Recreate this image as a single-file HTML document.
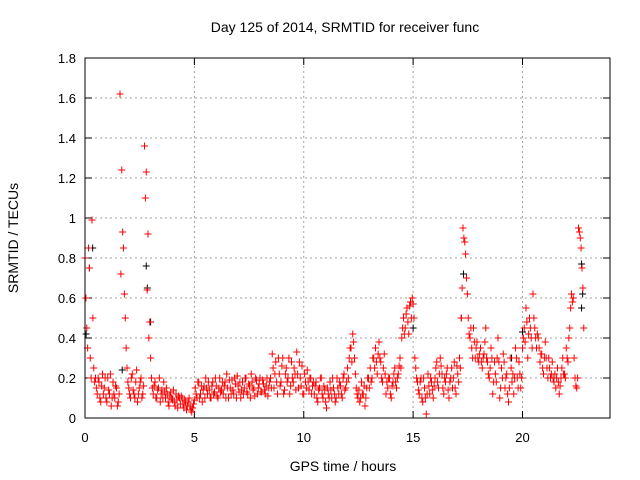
<!DOCTYPE html>
<html><head><meta charset="utf-8"><style>
body{margin:0;background:#fff;}
svg{display:block;font-family:"Liberation Sans",sans-serif;}
</style></head><body>
<svg id="chart" width="640" height="480">
<rect x="0" y="0" width="640" height="480" fill="#fff"/>
<text x="345" y="32" text-anchor="middle" font-size="14">Day 125 of 2014, SRMTID for receiver func</text>
<text transform="translate(18,238) rotate(-90)" text-anchor="middle" font-size="14">SRMTID / TECUs</text>
<text x="343" y="471" text-anchor="middle" font-size="14">GPS time / hours</text>
<g id="grid"></g><g id="axes"></g><g id="marks"></g>
<rect x="85" y="58" width="525" height="360" fill="none" stroke="#000" stroke-width="1"/>
</svg>
<script>
const xTicks=[0,5,10,15,20];
const yTicks=[0,0.2,0.4,0.6,0.8,1,1.2,1.4,1.6,1.8];
const yTickLabels=["0","0.2","0.4","0.6","0.8","1","1.2","1.4","1.6","1.8"];
const redStep=0.08;
const redValues=[0.8,0.45,0.85,0.3,0.99,0.25,
0.2,0.12,0.18,0.08,0.22,0.15,0.1,0.2,0.12,0.06,0.18,0.1,0.15,0.08,
1.62,1.24,0.85,0.5,0.25,
0.15,0.1,0.22,0.12,0.18,0.08,0.15,0.2,0.12,
1.36,1.23,0.92,0.48,0.2,
0.12,0.18,0.1,0.15,0.08,0.14,0.18,0.1,0.12,0.06,0.13,0.09,0.08,0.12,0.05,0.1,0.11,0.07,0.09,0.04,0.08,0.06,0.03,0.07,
0.15,0.1,0.18,0.12,0.08,0.16,0.2,0.12,0.14,0.1,0.18,0.13,0.16,0.1,0.2,0.14,0.12,0.18,0.22,0.1,0.15,0.19,0.12,0.17,0.21,0.13,0.1,0.18,0.15,0.2,0.12,0.16,0.22,0.14,0.11,0.19,0.15,0.2,0.13,0.17,0.12,0.2,0.15,
0.2,0.32,0.15,0.28,0.12,0.22,0.18,0.3,0.14,0.25,0.2,0.12,0.28,0.18,0.22,0.33,0.15,0.2,0.26,0.12,0.18,0.24,0.14,0.2,0.16,
0.12,0.18,0.08,0.15,0.2,0.1,0.14,0.05,0.12,0.18,0.1,0.15,0.08,0.2,0.12,0.16,0.1,0.22,0.15,
0.25,0.3,0.35,0.42,0.3,
0.15,0.1,0.08,0.18,0.12,0.06,0.15,0.2,
0.25,0.2,0.3,0.35,0.22,0.38,0.28,0.18,0.32,0.12,
0.15,0.2,0.1,0.18,0.25,0.15,0.22,0.3,
0.4,0.5,0.45,0.55,0.42,0.58,0.6,0.5,
0.25,0.18,0.12,0.2,0.08,0.15,0.02,0.22,0.12,0.18,0.1,
0.2,0.28,0.15,0.3,0.22,0.12,0.18,0.25,0.1,0.2,0.15,0.28,0.12,0.22,0.3,
0.5,0.95,0.88,0.7,
0.5,0.4,0.35,0.45,0.3,0.38,0.28,0.35,0.25,0.32,0.45,0.28,
0.2,0.35,0.12,0.28,0.18,0.4,0.1,0.25,0.32,0.15,0.22,0.08,0.3,0.18,0.12,0.35,0.2,0.28,0.15,
0.35,0.45,0.55,0.3,0.5,0.4,
0.62,0.45,0.35,0.4,0.28,0.32,0.22,0.38,0.25,0.3,0.2,0.28,0.18,
0.15,0.25,0.12,0.2,0.3,0.22,0.35,0.28,
0.45,0.62,0.6,0.2,
0.15,0.95,0.9,0.75,0.45];
const redValues2=[0.6,0.35,0.75,0.2,0.5,0.18,
0.15,0.2,0.1,0.16,0.12,0.2,0.08,0.14,0.22,0.1,0.12,0.16,0.06,0.12,
0.72,0.93,0.62,0.35,0.18,
0.12,0.2,0.14,0.1,0.24,0.12,0.18,0.1,0.16,
1.1,0.64,0.4,0.3,0.15,
0.16,0.1,0.14,0.2,0.12,0.1,0.13,0.15,0.08,0.11,0.1,0.14,0.06,0.09,0.11,0.07,0.1,0.05,0.08,0.06,0.1,0.04,0.05,0.09,
0.12,0.18,0.1,0.16,0.14,0.1,0.15,0.18,0.1,0.16,0.12,0.2,0.11,0.15,0.13,0.18,0.16,0.1,0.15,0.19,0.12,0.14,0.2,0.1,0.16,0.18,0.14,0.12,0.2,0.13,0.17,0.1,0.18,0.15,0.2,0.12,0.17,0.13,0.19,0.14,0.16,0.11,0.18,
0.15,0.25,0.22,0.18,0.3,0.16,0.26,0.12,0.22,0.18,0.3,0.16,0.2,0.25,0.14,0.22,0.28,0.16,0.12,0.22,0.15,0.18,0.2,0.12,0.18,
0.16,0.1,0.14,0.2,0.12,0.16,0.08,0.15,0.1,0.14,0.2,0.12,0.1,0.15,0.18,0.12,0.2,0.14,0.18,
0.2,0.35,0.28,0.38,0.22,
0.12,0.14,0.1,0.12,0.16,0.1,0.2,0.15,
0.18,0.3,0.25,0.28,0.32,0.3,0.2,0.25,0.22,0.18,
0.2,0.12,0.16,0.22,0.18,0.2,0.26,0.25,
0.45,0.42,0.52,0.48,0.56,0.5,0.57,0.3,
0.2,0.14,0.18,0.1,0.2,0.1,0.12,0.16,0.2,0.14,0.16,
0.25,0.18,0.22,0.26,0.15,0.2,0.22,0.14,0.18,0.25,0.2,0.15,0.26,0.18,0.25,
0.65,0.9,0.82,0.62,
0.42,0.45,0.3,0.38,0.35,0.3,0.32,0.28,0.3,0.38,0.3,0.22,
0.25,0.3,0.18,0.22,0.3,0.28,0.15,0.2,0.28,0.2,0.12,0.15,0.25,0.22,0.2,0.3,0.15,0.22,0.2,
0.4,0.38,0.48,0.42,0.45,0.35,
0.5,0.4,0.42,0.35,0.32,0.25,0.3,0.3,0.2,0.25,0.22,0.2,0.22,
0.2,0.18,0.16,0.25,0.22,0.2,0.3,0.4,
0.55,0.58,0.3,0.16,
0.2,0.93,0.85,0.65];
const blackTimes=[0.05,0.2,0.35,1.7,2.8,2.85,3.0,15.0,17.2,17.3,19.5,20.0,22.7,22.75,22.7];
const blackValues=[0.42,0.75,0.85,0.24,0.76,0.65,0.48,0.45,0.5,0.72,0.3,0.43,0.77,0.62,0.55];

const X0=85,X1=610,Y0=418,Y1=58,XMAX=24,YMAX=1.8;
const xs=t=>X0+t/XMAX*(X1-X0);
const ys=v=>Y0-v/YMAX*(Y0-Y1);
const NS="http://www.w3.org/2000/svg";
const grid=document.getElementById('grid'),axes=document.getElementById('axes'),marks=document.getElementById('marks');
function mk(tag,attrs,parent){const e=document.createElementNS(NS,tag);for(const k in attrs)e.setAttribute(k,attrs[k]);parent.appendChild(e);return e;}
yTicks.forEach((v,i)=>{
  const y=ys(v);
  if(i>0&&i<yTicks.length-1){const g=mk('line',{x1:X0,x2:X1,y1:y,y2:y,stroke:'#a0a0a0','stroke-dasharray':'2,3'},grid);
  
  }
  mk('line',{x1:X0,x2:X0+7,y1:y,y2:y,stroke:'#000'},axes);
  mk('line',{x1:X1,x2:X1-7,y1:y,y2:y,stroke:'#000'},axes);
  const t=mk('text',{x:X0-9,y:y+5,'text-anchor':'end','font-size':13},axes);
  t.textContent=yTickLabels[i];
  
  
});
xTicks.forEach(v=>{
  const x=xs(v);
  if(v>0){const g=mk('line',{x1:x,x2:x,y1:Y0,y2:Y1,stroke:'#a0a0a0','stroke-dasharray':'2,3'},grid);
  
  }
  mk('line',{x1:x,x2:x,y1:Y0,y2:Y0-7,stroke:'#000'},axes);
  mk('line',{x1:x,x2:x,y1:Y1,y2:Y1+7,stroke:'#000'},axes);
  const t=mk('text',{x:x,y:Y0+24,'text-anchor':'middle','font-size':13},axes);
  t.textContent=String(v);
  
  
});
function plus(x,y,color,name){
  const p=mk('path',{d:`M${x-3.5},${y}h7M${x},${y-3.5}v7`,stroke:color,'stroke-width':1,fill:'none'},marks);
  
  
}
blackValues.forEach((v,i)=>plus(xs(blackTimes[i]),ys(v),'#000','black-point'));
redValues.forEach((v,i)=>plus(xs(i*redStep),ys(v),'#ff0000','red-point'));
redValues2.forEach((v,i)=>plus(xs(i*redStep+redStep/2),ys(v),'#ff0000','red-point'));
</script>
</body></html>
